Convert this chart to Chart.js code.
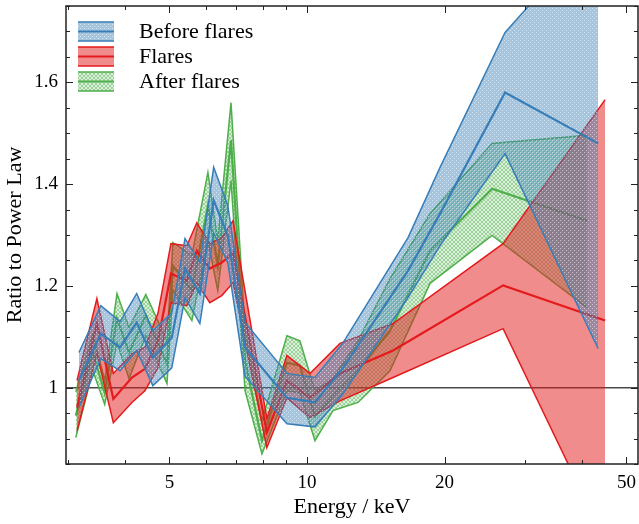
<!DOCTYPE html>
<html>
<head>
<title>Ratio to Power Law</title>
<script src="https://cdn.jsdelivr.net/npm/chart.js"></script>
<style>
  body { margin: 0; background: white; }
  .wrap { width: 639px; height: 524px; position: relative; }
</style>
</head>
<body>
<div class="wrap"><canvas id="ratioChart"></canvas></div>
<script>
// Before flares: energy (keV), band top, centre line, band bottom
const beforeEnergy = [3.17, 3.54, 3.90, 4.24, 4.60, 5.06, 5.41, 5.83, 6.25, 6.71, 7.32, 9.04, 10.41, 11.99, 16.64, 19.55, 27.13, 43.35];
const beforeUpper  = [1.069, 1.161, 1.130, 1.185, 1.112, 1.147, 1.293, 1.246, 1.433, 1.358, 1.128, 1.028, 1.020, 1.088, 1.295, 1.433, 1.698, 1.903];
const beforeMid    = [1.014, 1.106, 1.079, 1.128, 1.059, 1.098, 1.234, 1.185, 1.368, 1.299, 1.079, 0.980, 0.971, 1.039, 1.230, 1.342, 1.580, 1.480];
const beforeLower  = [0.961, 1.057, 1.033, 1.073, 1.004, 1.039, 1.177, 1.126, 1.303, 1.246, 1.022, 0.929, 0.923, 0.988, 1.177, 1.279, 1.460, 1.077];

// Flares
const flareEnergy = [3.14, 3.47, 3.77, 4.14, 4.42, 4.72, 5.04, 5.46, 5.74, 6.13, 6.51, 6.89, 8.17, 9.04, 10.15, 11.81, 15.43, 26.86, 44.91];
const flareUpper  = [1.014, 1.175, 1.028, 1.067, 1.079, 1.146, 1.283, 1.279, 1.324, 1.283, 1.295, 1.328, 0.939, 1.063, 1.028, 1.087, 1.126, 1.283, 1.566];
const flareMid    = [0.961, 1.126, 0.978, 1.020, 1.037, 1.092, 1.224, 1.210, 1.269, 1.234, 1.246, 1.265, 0.912, 1.014, 0.980, 1.028, 1.073, 1.201, 1.132];
const flareLower  = [0.915, 1.067, 0.931, 0.971, 0.994, 1.039, 1.167, 1.161, 1.206, 1.167, 1.181, 1.206, 0.882, 0.980, 0.941, 0.974, 1.020, 1.116, 0.699];

// After flares
const afterEnergy = [3.12, 3.40, 3.61, 3.84, 4.08, 4.44, 4.94, 5.09, 5.60, 6.07, 6.38, 6.82, 7.32, 7.97, 9.04, 9.65, 10.41, 11.40, 12.93, 15.19, 18.59, 25.41, 41.02];
const afterUpper  = [0.992, 1.106, 1.014, 1.185, 1.118, 1.183, 1.092, 1.285, 1.260, 1.423, 1.289, 1.560, 1.112, 0.935, 1.102, 1.092, 0.994, 1.018, 1.092, 1.214, 1.342, 1.480, 1.496];
const afterMid    = [0.945, 1.069, 0.990, 1.136, 1.069, 1.142, 1.047, 1.240, 1.191, 1.358, 1.240, 1.486, 1.053, 0.896, 1.049, 1.043, 0.943, 0.984, 1.033, 1.112, 1.269, 1.391, 1.328];
const afterLower  = [0.902, 1.033, 0.967, 1.088, 1.018, 1.102, 1.008, 1.191, 1.132, 1.289, 1.191, 1.407, 0.994, 0.870, 0.994, 0.990, 0.896, 0.955, 0.971, 1.033, 1.205, 1.299, 1.157];

const seriesLabels = ['Before flares', 'Flares', 'After flares'];
const xTickLabels = [5, 10, 20, 50];
const xMinorTicks = [3, 4, 6, 7, 8, 9, 30, 40];
const yTickLabels = [1.0, 1.2, 1.4, 1.6];

const BLUE = '#377eb8', RED = '#e41a1c', GREEN = '#4daf4a';
const SERIF = '"Liberation Serif", "DejaVu Serif", serif';

function makePattern(size, bg, fg, pix) {
    const c = document.createElement('canvas');
    c.width = size; c.height = size;
    const g = c.getContext('2d');
    g.fillStyle = bg;
    g.fillRect(0, 0, size, size);
    g.fillStyle = fg;
    pix.forEach(p => g.fillRect(p[0], p[1], 1, 1));
    return g.createPattern(c, 'repeat');
}

const bluePattern = makePattern(4, 'rgba(55,126,184,0.45)', 'rgba(255,255,255,0.55)', [[0, 0], [2, 2]]);
const greenPattern = makePattern(4, 'rgba(77,175,74,0.2)', 'rgba(77,175,74,0.45)',
    [[0, 0], [1, 1], [2, 2], [3, 3], [0, 3], [1, 2], [2, 1], [3, 0]]);
const redFill = 'rgba(228,26,28,0.5)';

const pts = (xs, ys) => xs.map((x, i) => ({x: x, y: ys[i]}));

// one series = centre line + upper edge + lower edge filled up to the upper edge
function band(energy, upper, mid, lower, color, fill) {
    const base = {borderColor: color, pointRadius: 0, tension: 0, borderJoinStyle: 'miter'};
    return [
        Object.assign({}, base, {data: pts(energy, mid), borderWidth: 2.2, fill: false}),
        Object.assign({}, base, {data: pts(energy, upper), borderWidth: 1.5, fill: false}),
        Object.assign({}, base, {data: pts(energy, lower), borderWidth: 1.5, fill: '-1', backgroundColor: fill})
    ];
}

const legendItems = [
    {label: seriesLabels[0], color: BLUE, fill: bluePattern},
    {label: seriesLabels[1], color: RED, fill: redFill},
    {label: seriesLabels[2], color: GREEN, fill: greenPattern}
];

const framePlugin = {
    id: 'frame',
    beforeDatasetsDraw(chart) {
        const {ctx, chartArea: a, scales: {y}} = chart;
        const yy = y.getPixelForValue(1);
        ctx.save();
        ctx.strokeStyle = '#4a4a4a';
        ctx.lineWidth = 1.5;
        ctx.beginPath();
        ctx.moveTo(a.left, yy);
        ctx.lineTo(a.right, yy);
        ctx.stroke();
        ctx.restore();
    },
    afterDraw(chart) {
        const {ctx, chartArea: a, scales: {x, y}} = chart;
        ctx.save();
        ctx.strokeStyle = '#222';
        ctx.lineWidth = 1;
        const vTick = (px, len) => {
            ctx.beginPath();
            ctx.moveTo(px, a.bottom); ctx.lineTo(px, a.bottom - len);
            ctx.moveTo(px, a.top); ctx.lineTo(px, a.top + len);
            ctx.stroke();
        };
        const hTick = (py, len) => {
            ctx.beginPath();
            ctx.moveTo(a.left, py); ctx.lineTo(a.left + len, py);
            ctx.moveTo(a.right, py); ctx.lineTo(a.right - len, py);
            ctx.stroke();
        };
        xTickLabels.forEach(v => vTick(Math.round(x.getPixelForValue(v)) + 0.5, 7));
        xMinorTicks.forEach(v => vTick(Math.round(x.getPixelForValue(v)) + 0.5, 4));
        for (let i = 17; i <= 35; i++) {
            const v = i * 0.05;
            const major = yTickLabels.some(t => Math.abs(t - v) < 1e-6);
            hTick(Math.round(y.getPixelForValue(v)) + 0.5, major ? 7 : 4);
        }
        ctx.lineWidth = 1.5;
        ctx.strokeRect(a.left, a.top, a.right - a.left, a.bottom - a.top);

        // legend
        const bx = 78, bw = 36, bh = 19;
        legendItems.forEach((it, i) => {
            const top = 22 + i * 25;
            ctx.fillStyle = it.fill;
            ctx.fillRect(bx, top, bw, bh);
            ctx.strokeStyle = it.color;
            ctx.lineWidth = 1.5;
            ctx.beginPath();
            ctx.moveTo(bx, top); ctx.lineTo(bx + bw, top);
            ctx.moveTo(bx, top + bh); ctx.lineTo(bx + bw, top + bh);
            ctx.stroke();
            ctx.lineWidth = 2.2;
            ctx.beginPath();
            ctx.moveTo(bx, top + bh / 2); ctx.lineTo(bx + bw, top + bh / 2);
            ctx.stroke();
            ctx.fillStyle = '#000';
            ctx.font = '22px ' + SERIF;
            ctx.textBaseline = 'middle';
            ctx.fillText(it.label, 139, top + bh / 2 + 1);
        });
        ctx.restore();
    }
};

const ctx = document.getElementById('ratioChart').getContext('2d');
new Chart(ctx, {
    type: 'line',
    data: {
        datasets: [].concat(
            band(beforeEnergy, beforeUpper, beforeMid, beforeLower, BLUE, bluePattern),
            band(flareEnergy, flareUpper, flareMid, flareLower, RED, redFill),
            band(afterEnergy, afterUpper, afterMid, afterLower, GREEN, greenPattern)
        )
    },
    options: {
        responsive: true,
        maintainAspectRatio: false,
        animation: false,
        devicePixelRatio: 1,
        layout: {padding: {top: 6, right: 1, left: 0, bottom: 0}},
        plugins: {legend: {display: false}, tooltip: {enabled: false}},
        scales: {
            x: {
                type: 'logarithmic',
                min: 2.97,
                max: 53,
                grid: {display: false, drawTicks: false},
                border: {display: false},
                afterBuildTicks: s => { s.ticks = xTickLabels.map(v => ({value: v})); },
                afterFit: s => { s.height = 60; s.paddingLeft = 0; s.paddingRight = 0; },
                ticks: {
                    color: '#000',
                    font: {family: SERIF, size: 19},
                    padding: 8,
                    maxRotation: 0,
                    autoSkip: false,
                    callback: v => String(v)
                },
                title: {display: true, text: 'Energy / keV', color: '#000',
                        font: {family: SERIF, size: 22}, padding: {top: 0, bottom: 4}}
            },
            y: {
                min: 0.85,
                max: 1.75,
                grid: {display: false, drawTicks: false},
                border: {display: false},
                afterBuildTicks: s => { s.ticks = yTickLabels.map(v => ({value: v})); },
                afterFit: s => { s.width = 66; s.paddingTop = 0; s.paddingBottom = 0; },
                ticks: {
                    color: '#000',
                    font: {family: SERIF, size: 19},
                    padding: 8,
                    callback: v => (Math.abs(v - 1) < 1e-9 ? '1' : v.toFixed(1))
                },
                title: {display: true, text: 'Ratio to Power Law', color: '#000',
                        font: {family: SERIF, size: 22}, padding: {top: 2, bottom: 0}}
            }
        }
    },
    plugins: [framePlugin]
});
</script>
</body>
</html>
